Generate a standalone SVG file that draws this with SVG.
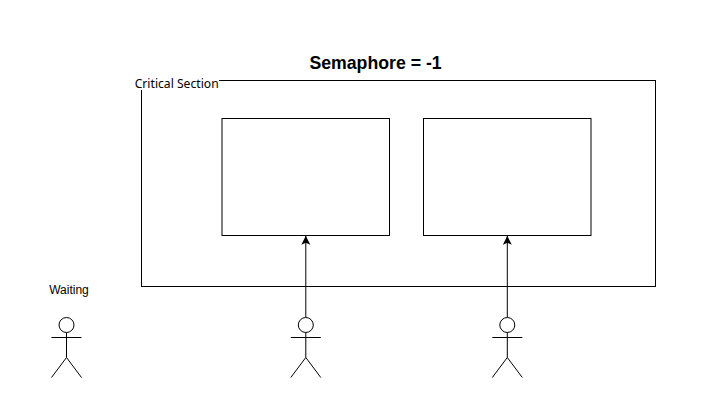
<svg xmlns="http://www.w3.org/2000/svg" width="718" height="401" viewBox="0 0 718 401">
<style>
.s{fill:none;stroke:#000;stroke-width:1}
text{fill:#000}
.l{font-size:12px}
</style>
<defs>
<g id="actor"><circle class="s" cx="0" cy="7.500" r="7.500"/><path class="s" d="M0 15V40M-15 20H15M0 40L-15 60M0 40L15 60"/></g>
<marker id="a" markerWidth="9" markerHeight="10" refX="9" refY="4.500" orient="auto" markerUnits="userSpaceOnUse"><path d="M0 0L9 4.500L0 9L2 4.500Z" fill="#000"/></marker>
</defs>
<rect width="718" height="401" fill="#fff"/>
<g id="critical-section"><rect class="s" x="141.500" y="80.500" width="514" height="206"/></g>
<g id="box1"><rect class="s" x="222" y="118.500" width="167.500" height="117"/></g>
<g id="box2"><rect class="s" x="423.500" y="118.500" width="167.500" height="117"/></g>
<g id="connectors"><path class="s" d="M305.800 317V235.800" marker-end="url(#a)"/><path class="s" d="M507.300 317V235.800" marker-end="url(#a)"/></g>
<g id="actor0"><use href="#actor" x="66.500" y="317.500"/></g>
<g id="actor1"><use href="#actor" x="305.800" y="317.500"/></g>
<g id="actor2"><use href="#actor" x="507.300" y="317.500"/></g>
<g id="title"><text x="375.500" y="69" text-anchor="middle" font-size="17.700px" font-weight="700" font-family="'Liberation Sans',sans-serif">Semaphore = -1</text></g>
<g id="cs-label"><rect x="135" y="75" width="84" height="15" fill="#fff"/><text x="134.700" y="88" font-size="12.150px" font-family="'Noto Sans','Open Sans',sans-serif">Critical Section</text></g>
<g id="waiting"><text class="l" x="69" y="294" text-anchor="middle" font-family="'Liberation Sans',sans-serif">Waiting</text></g>
</svg>
